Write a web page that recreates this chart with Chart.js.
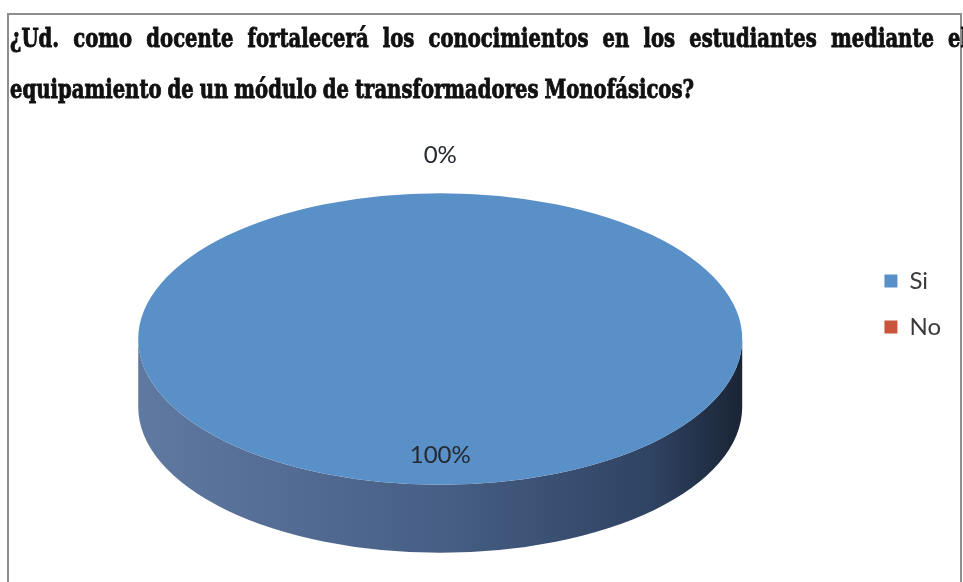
<!DOCTYPE html>
<html lang="es">
<head>
<meta charset="utf-8">
<title>Módulo de transformadores monofásicos</title>
<script src="https://cdn.jsdelivr.net/npm/chart.js@4.4.1/dist/chart.umd.min.js"></script>
<style>
  html, body { margin: 0; padding: 0; background: #fff; overflow: hidden; }
  #wrap { position: relative; width: 963px; height: 582px; }
  #frame { position: absolute; left: 7px; top: 13px; width: 955px; height: 620px; border: 2px solid #8e8e8e; box-sizing: border-box; }
  canvas { position: absolute; left: 0; top: 0; }
</style>
</head>
<body>
<div id="wrap">
  <div id="frame"></div>
  <canvas id="pieChart" width="963" height="582"></canvas>
</div>
<script>
  // Respuestas de los docentes
  const categories = ["Si", "No"];
  const answers = [100, 0];
  const titleLines = [
    "¿Ud. como docente fortalecerá los conocimientos en los estudiantes mediante el",
    "equipamiento de un módulo de transformadores Monofásicos?"
  ];

  // Two-line heading in a squeezed heavy serif, first line justified
  const headingPlugin = {
    id: "heading",
    afterDraw(chart) {
      const ctx = chart.ctx;
      ctx.save();
      ctx.font = 'bold 26px "DejaVu Serif"';
      ctx.fillStyle = "#111";
      ctx.strokeStyle = "#111";
      ctx.lineWidth = 0.9;
      ctx.textBaseline = "alphabetic";

      const drawLine = (text, left, right, baseline, squeeze, gap) => {
        const words = text.split(" ");
        const widths = words.map(w => ctx.measureText(w).width * squeeze);
        const total = widths.reduce((a, b) => a + b, 0);
        const space = gap !== undefined ? gap : (right - left - total) / (words.length - 1);
        let x = left;
        words.forEach((w, i) => {
          ctx.save();
          ctx.translate(x, baseline);
          ctx.scale(squeeze, 1);
          ctx.fillText(w, 0, 0);
          ctx.strokeText(w, 0, 0);
          ctx.restore();
          x += widths[i] + space;
        });
      };

      // second line sets the squeeze: tight word gaps, ends near x = 694
      const words2 = titleLines[1].split(" ");
      const natural = words2.reduce((s, w) => s + ctx.measureText(w).width, 0);
      const gap2 = 6;
      const squeeze = (694 - 10 - gap2 * (words2.length - 1)) / natural;

      drawLine(titleLines[0], 10, 968, 47, squeeze);
      drawLine(titleLines[1], 10, 694, 98, squeeze, gap2);
      ctx.restore();
    }
  };

  // Flattens the pie into a tilted disc with a shaded rim
  const pie3d = {
    id: "pie3d",
    beforeDatasetsDraw(chart, args, opts) {
      const ctx = chart.ctx;
      const arcs = chart.getDatasetMeta(0).data;
      const cx = arcs[0].x, cy = arcs[0].y + opts.drop;
      const r = arcs[0].outerRadius, ry = r * opts.tilt;

      const grad = ctx.createLinearGradient(cx - r, 0, cx + r, 0);
      grad.addColorStop(0, "#6079a1");
      grad.addColorStop(0.5, "#475f85");
      grad.addColorStop(0.85, "#2f4363");
      grad.addColorStop(1, "#1a2434");

      ctx.save();
      arcs.forEach(a => {
        const lo = Math.max(a.startAngle, 0);
        const hi = Math.min(a.endAngle, Math.PI);
        if (hi <= lo) return;
        ctx.beginPath();
        ctx.ellipse(cx, cy, r, ry, 0, lo, hi);
        ctx.ellipse(cx, cy + opts.depth, r, ry, 0, hi, lo, true);
        ctx.closePath();
        ctx.fillStyle = grad;
        ctx.fill();
      });
      ctx.restore();

      ctx.save();
      ctx.translate(cx, cy);
      ctx.scale(1, opts.tilt);
      ctx.translate(-arcs[0].x, -arcs[0].y);
    },
    afterDatasetsDraw(chart, args, opts) {
      const ctx = chart.ctx;
      ctx.restore();

      // percentage labels
      const arcs = chart.getDatasetMeta(0).data;
      const total = answers.reduce((a, b) => a + b, 0);
      ctx.save();
      ctx.font = '24px "Lato"';
      ctx.fillStyle = "#24292f";
      ctx.textAlign = "center";
      ctx.textBaseline = "middle";
      arcs.forEach((a, i) => {
        const mid = (a.startAngle + a.endAngle) / 2;
        const k = answers[i] > 0 ? 0.8 : 1.26;
        const x = a.x + Math.cos(mid) * a.outerRadius * k;
        const y = a.y + opts.drop + Math.sin(mid) * a.outerRadius * k * opts.tilt;
        ctx.fillText(Math.round(answers[i] / total * 100) + "%", x, y);
      });
      ctx.restore();
    }
  };

  new Chart(document.getElementById("pieChart"), {
    type: "pie",
    data: {
      labels: categories,
      datasets: [{
        data: answers,
        backgroundColor: ["#5a90c8", "#c9553d"],
        borderWidth: 0,
        radius: 302,
        clip: false
      }]
    },
    options: {
      responsive: false,
      animation: false,
      events: [],
      layout: { padding: { left: 18, right: 12, top: 120, bottom: 94 } },
      plugins: {
        legend: {
          position: "right",
          labels: {
            boxWidth: 13,
            boxHeight: 13,
            padding: 22,
            color: "#3a3a3a",
            font: { family: "Lato", size: 24 }
          }
        },
        tooltip: { enabled: false },
        pie3d: { tilt: 0.483, depth: 68, drop: 35 }
      }
    },
    plugins: [headingPlugin, pie3d]
  });
</script>
</body>
</html>
